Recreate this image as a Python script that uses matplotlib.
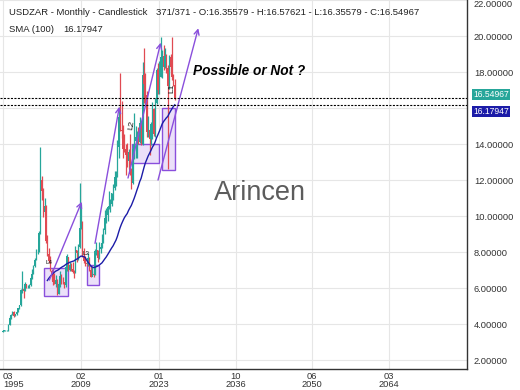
import numpy as np
import pandas as pd
import matplotlib
matplotlib.use("Agg")
import matplotlib.pyplot as plt

plt.rcParams["font.family"] = ["Liberation Sans", "DejaVu Sans"]
plt.rcParams["lines.scale_dashes"] = False

# quarterly USDZAR candles, 1995 Q1 .. 2025 Q4 (open = previous close)
start_year = 1995
first_open = 3.55
closes = [
    3.63, 3.65, 3.65, 3.65,        # 1995
    3.95, 4.33, 4.52, 4.68,        # 1996
    4.45, 4.53, 4.68, 4.87,        # 1997
    5.03, 5.88, 5.92, 5.86,        # 1998
    6.22, 6.03, 6.05, 6.15,        # 1999
    6.55, 6.80, 7.23, 7.58,        # 2000
    8.05, 8.05, 9.05, 12.00,       # 2001
    11.40, 10.25, 10.55, 8.60,     # 2002
    7.90, 7.48, 6.95, 6.65,        # 2003
    6.35, 6.22, 6.45, 5.65,        # 2004
    6.22, 6.68, 6.35, 6.33,        # 2005
    6.17, 7.15, 7.75, 7.00,        # 2006
    7.28, 7.05, 6.88, 6.85,        # 2007
    8.10, 7.95, 8.28, 9.35,        # 2008
    9.50, 7.75, 7.48, 7.40,        # 2009
    7.35, 7.65, 6.98, 6.62,        # 2010
    6.78, 6.75, 8.05, 8.10,        # 2011
    7.65, 8.17, 8.30, 8.48,        # 2012
    9.22, 9.90, 10.05, 10.50,      # 2013
    10.55, 10.65, 11.28, 11.57,    # 2014
    12.15, 12.17, 13.85, 15.50,    # 2015
    14.80, 14.70, 13.75, 13.70,    # 2016
    13.40, 13.05, 13.55, 12.35,    # 2017
    11.85, 13.73, 14.15, 14.38,    # 2018
    14.45, 14.10, 15.15, 14.00,    # 2019
    17.85, 17.35, 16.75, 14.65,    # 2020
    14.80, 14.28, 15.10, 15.95,    # 2021
    14.55, 16.30, 18.10, 17.00,    # 2022
    17.75, 18.85, 18.90, 18.30,    # 2023
    18.90, 18.25, 17.25, 18.85,    # 2024
    18.30, 17.75, 17.30, 16.55,    # 2025
]
highs = [
    3.67, 3.68, 3.67, 3.67,
    4.00, 4.45, 4.55, 4.70,
    4.72, 4.58, 4.72, 4.90,
    5.08, 5.95, 6.95, 6.05,
    6.35, 6.25, 6.15, 6.20,
    6.60, 7.05, 7.30, 7.65,
    8.15, 8.15, 9.15, 13.85,
    12.25, 11.55, 11.00, 10.60,
    8.95, 8.25, 7.80, 7.05,
    6.98, 6.85, 6.70, 6.48,
    6.35, 6.92, 6.80, 6.60,
    6.35, 7.25, 7.88, 7.75,
    7.45, 7.40, 7.45, 7.00,
    8.35, 8.10, 8.45, 11.85,
    10.65, 9.70, 8.20, 7.80,
    7.65, 7.95, 7.70, 7.20,
    7.15, 6.95, 8.15, 8.55,
    8.10, 8.58, 8.45, 9.00,
    9.35, 10.35, 10.45, 10.55,
    11.40, 10.95, 11.30, 11.80,
    12.50, 12.50, 14.20, 16.05,
    17.95, 16.40, 15.05, 14.55,
    14.00, 14.05, 13.70, 14.55,
    12.65, 14.00, 15.70, 15.00,
    14.70, 14.95, 15.50, 15.30,
    18.55, 19.35, 17.95, 16.95,
    15.55, 14.85, 15.25, 16.35,
    16.00, 16.55, 18.20, 18.50,
    18.60, 19.92, 19.25, 19.50,
    19.35, 19.00, 18.40, 18.95,
    19.00, 19.93, 17.90, 17.60,
]
lows = [
    3.53, 3.60, 3.62, 3.62,
    3.63, 3.93, 4.30, 4.48,
    4.38, 4.42, 4.50, 4.65,
    4.85, 5.00, 5.70, 5.45,
    5.82, 6.00, 5.98, 6.02,
    6.12, 6.50, 6.78, 7.18,
    7.55, 7.90, 8.00, 9.00,
    10.90, 9.95, 10.05, 8.50,
    7.80, 7.40, 6.95, 6.45,
    6.15, 6.20, 6.05, 5.60,
    5.65, 6.05, 6.25, 6.25,
    6.00, 6.08, 6.95, 6.95,
    6.95, 6.95, 6.85, 6.55,
    6.85, 7.45, 7.55, 8.25,
    9.30, 7.70, 7.40, 7.25,
    7.20, 7.25, 6.95, 6.60,
    6.75, 6.60, 6.70, 7.85,
    7.45, 7.60, 7.95, 8.25,
    8.50, 9.00, 9.60, 9.70,
    10.40, 10.25, 10.55, 10.90,
    11.45, 11.65, 12.15, 13.20,
    14.70, 14.35, 13.20, 13.55,
    12.30, 12.75, 12.60, 12.30,
    11.50, 11.80, 13.15, 13.25,
    13.25, 14.00, 14.05, 13.95,
    13.95, 16.30, 16.10, 14.40,
    14.40, 13.40, 13.95, 14.30,
    14.45, 14.40, 16.20, 16.80,
    16.80, 17.70, 17.65, 18.10,
    18.20, 17.95, 12.60, 17.05,
    17.90, 17.55, 17.20, 16.45,
]

header = "USDZAR - Monthly - Candlestick"
ohlc_text = "371/371 - O:16.35579 - H:16.57621 - L:16.35579 - C:16.54967"
sma_window = 33  # 100 months in quarters
last_close = 16.54967
sma_last = 16.17947

# x ticks (year fraction) and their labels
tick_years = [1995 + 2 / 12, 2009 + 1 / 12, 2023.0, 2036 + 9 / 12, 2050 + 5 / 12, 2064 + 2 / 12]
tick_labels = ["03\n1995", "02\n2009", "01\n2023", "10\n2036", "06\n2050", "03\n2064"]
y_ticks = list(range(2, 23, 2))
hidden_y_tick = 16  # covered by the price tags

# drawing (x in years, y in price)
boxes = [
    (2002.58, 5.57, 2006.76, 7.11),
    (2010.15, 6.15, 2012.30, 7.28),
    (2018.30, 12.93, 2023.06, 13.98),
    (2023.66, 12.53, 2025.92, 15.98),
]
arrows = [
    ((2003.48, 6.44), (2009.26, 10.79)),
    ((2011.64, 8.48), (2015.98, 16.07)),
    ((2017.53, 12.11), (2023.37, 19.63)),
    ((2022.89, 12.00), (2030.08, 20.43)),
]
level_labels = [
    ("L4", 2003.48, 7.44, 0, 4.5),
    ("L3", 2009.94, 7.89, 0, 4.5),
    ("L2", 2018.19, 15.06, 80, 6),
    ("L1", 2025.33, 17.10, 90, 6),
]

UP = "#26a69a"
DOWN = "#e04a52"
PURPLE = "#8a4fdc"
NAVY = "#1c1ca8"

closes = np.array(closes)
highs = np.array(highs)
lows = np.array(lows)
opens = np.concatenate([[first_open], closes[:-1]])
x = start_year + np.arange(len(closes)) / 4 + 1 / 8
colors = np.where(closes >= opens, UP, DOWN)
sma = pd.Series(closes).rolling(sma_window).mean()

fig = plt.figure(figsize=(5.2, 3.9), dpi=100)
ax = fig.add_axes([0, 21 / 390, 466.5 / 520, 369 / 390])

ax.set_xlim(1994.67, 2077.98)
ax.set_ylim(1.5, 22.0)

for x0, y0, x1, y1 in boxes:
    ax.add_patch(plt.Rectangle((x0, y0), x1 - x0, y1 - y0, facecolor=(0.86, 0.78, 0.96, 0.55),
                               edgecolor=PURPLE, lw=1.0, zorder=2))

ax.vlines(x, lows, highs, colors=colors, lw=0.9, zorder=3)
ax.bar(x, np.abs(closes - opens), bottom=np.minimum(opens, closes),
       width=0.22, color=colors, linewidth=0, zorder=3)
ax.plot(x, sma, color=NAVY, lw=1.0, zorder=4)

for (xa, ya), (xb, yb) in arrows:
    ax.annotate("", xy=(xb, yb), xytext=(xa, ya),
                arrowprops=dict(arrowstyle="->", color=PURPLE, lw=1.0,
                                mutation_scale=9, shrinkA=0, shrinkB=0), zorder=6)
for txt, lx, ly, rot, fs in level_labels:
    ax.text(lx, ly, txt, fontsize=fs, rotation=rot, ha="center", va="center",
            color="#111111", zorder=7)

ax.axhline(last_close, color="black", lw=0.8, ls=(0, (1.5, 1.0)), zorder=6)
ax.axhline(sma_last, color="black", lw=0.8, ls=(0, (1.5, 1.0)), zorder=6)

ax.text(2029.08, 18.07, "Possible or Not ?", fontsize=9.8, fontweight="bold",
        fontstyle="italic", ha="left", va="center", color="black", zorder=7)
ax.text(0.5567, 0.476, "Arincen", transform=ax.transAxes, fontsize=19.5,
        color="#5c5c5c", ha="center", va="center", zorder=2)

# axes styling
ax.set_xticks(tick_years)
ax.set_xticklabels(tick_labels, fontsize=6.7, color="#333333", linespacing=0.85)
ax.get_xticklabels()[0].set_ha("left")
ax.yaxis.tick_right()
ax.set_yticks(y_ticks)
ax.set_yticklabels(["" if v == hidden_y_tick else f"{v:.5f}" for v in y_ticks],
                   fontsize=6.7, color="#333333")
ax.get_yticklabels()[-1].set_va("top")
ax.tick_params(axis="both", length=0)
ax.tick_params(axis="y", pad=5.4)
ax.tick_params(axis="x", pad=2)
ax.grid(True, color="#e6e6e6", lw=0.8, zorder=0)
ax.set_axisbelow(True)
for side in ("left", "top"):
    ax.spines[side].set_visible(False)
for side in ("right", "bottom"):
    ax.spines[side].set_color("#333333")
    ax.spines[side].set_linewidth(1.0)

# last value tags on the price scale
ax.annotate(f"{last_close:.5f}", xy=(1, last_close), xycoords=("axes fraction", "data"),
            xytext=(5, 2.4), textcoords="offset points", fontsize=6.2, color="white",
            ha="left", va="center", annotation_clip=False,
            bbox=dict(boxstyle="square,pad=0.12", fc=UP, ec="none"))
ax.annotate(f"{sma_last:.5f}", xy=(1, sma_last), xycoords=("axes fraction", "data"),
            xytext=(5, -4.9), textcoords="offset points", fontsize=6.2, color="white",
            ha="left", va="center", annotation_clip=False,
            bbox=dict(boxstyle="square,pad=0.12", fc=NAVY, ec="none"))

# header legend
fig.text(9 / 520, 1 - 12.3 / 390, header, fontsize=6.8, color="#222222", va="center")
fig.text(156 / 520, 1 - 12.3 / 390, ohlc_text, fontsize=6.8, color="#222222", va="center")
fig.text(9 / 520, 1 - 29.3 / 390, "SMA (100)", fontsize=6.8, color="#222222", va="center")
fig.text(63.3 / 520, 1 - 29.3 / 390, f"{sma_last:.5f}", fontsize=6.8, color="#222222", va="center")

fig.savefig("out.png", dpi=100, facecolor="white")
